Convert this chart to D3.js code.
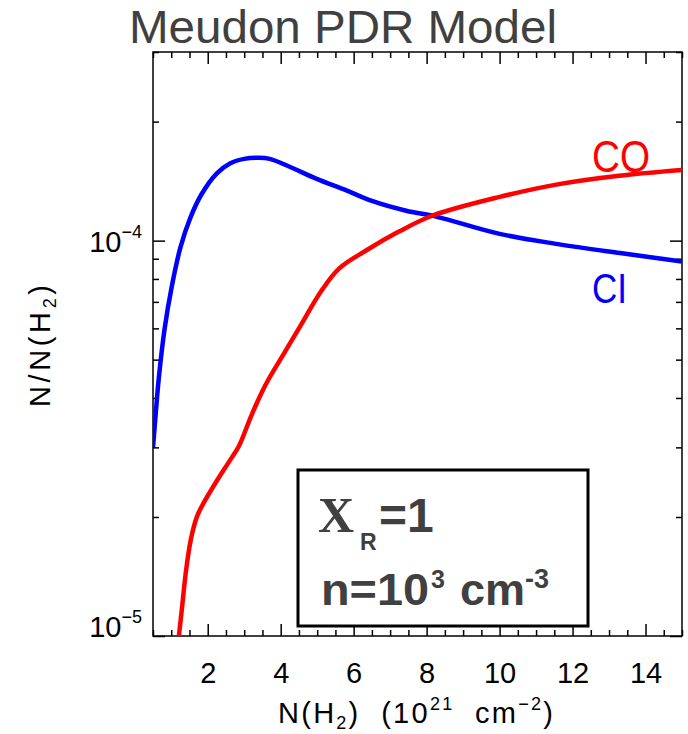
<!DOCTYPE html>
<html>
<head>
<meta charset="utf-8">
<script src="https://cdn.jsdelivr.net/npm/d3@7"></script>
<style>
  html, body { margin: 0; padding: 0; background: #fff; }
  svg { display: block; font-family: "Liberation Sans", Arial, sans-serif; }
</style>
</head>
<body>
<svg id="chart" width="688" height="734"></svg>
<script>
// ---- data ----
const ciX = [0.5, 0.58, 0.66, 0.82, 1.02, 1.25, 1.52, 1.83, 2.25, 2.62, 3.0, 3.4, 3.7, 4.23, 4.97, 5.8, 6.5, 7.44, 8.26, 10, 11.6, 13.3, 15];
const ciY = [3.0e-5, 3.7e-5, 4.5e-5, 6.0e-5, 7.7e-5, 9.6e-5, 1.14e-4, 1.31e-4, 1.48e-4, 1.57e-4, 1.61e-4, 1.62e-4, 1.61e-4, 1.54e-4, 1.435e-4, 1.34e-4, 1.26e-4, 1.19e-4, 1.15e-4, 1.04e-4, 9.8e-5, 9.3e-5, 8.85e-5];
const coX = [1.21, 1.30, 1.40, 1.54, 1.71, 1.90, 2.25, 2.64, 2.86, 3.19, 3.49, 3.68, 4.1, 4.5, 5.13, 5.6, 6.34, 7.24, 8.15, 10, 11.63, 13.27, 15];
const coY = [1.0e-5, 1.19e-5, 1.45e-5, 1.76e-5, 2.01e-5, 2.18e-5, 2.47e-5, 2.81e-5, 3.03e-5, 3.6e-5, 4.15e-5, 4.48e-5, 5.2e-5, 6.0e-5, 7.5e-5, 8.5e-5, 9.44e-5, 1.054e-4, 1.156e-4, 1.29e-4, 1.39e-4, 1.46e-4, 1.51e-4];
const xDomain = [0.5, 15];
const yDomain = [1e-5, 3e-4];
const xMajorTicks = [2, 4, 6, 8, 10, 12, 14];
const xMinorTicks = d3.range(0.5, 15.01, 0.5).filter(v => v % 2 !== 0);
const yMajorTicks = [1e-5, 1e-4];
const yMajorExponents = ["−5", "−4"];
const yMinorTicks = [2e-5, 3e-5, 4e-5, 5e-5, 6e-5, 7e-5, 8e-5, 9e-5, 2e-4, 3e-4];
const titleText = "Meudon PDR Model";

// ---- layout ----
const L = 153, R = 682, T = 52, B = 636;
const svg = d3.select("#chart");
const x = d3.scaleLinear().domain(xDomain).range([L, R]);
const y = d3.scaleLog().domain(yDomain).range([B, T]);

// title
svg.append("text").attr("x", 129).attr("y", 43)
  .attr("font-size", 47).attr("fill", "#404040")
  .attr("textLength", 428).attr("lengthAdjust", "spacingAndGlyphs")
  .text(titleText);

// clip
svg.append("defs").append("clipPath").attr("id", "clip")
  .append("rect").attr("x", L).attr("y", T).attr("width", R - L).attr("height", B - T);

// axes (ticks inward)
function axisStyle(g) {
  g.select(".domain").remove();
  g.selectAll(".tick line").attr("stroke", "#000").attr("stroke-width", 1.5);
}
const MAJ = 12, MIN = 6;
svg.append("g").attr("transform", `translate(0,${B})`)
  .call(d3.axisBottom(x).tickValues(xMajorTicks).tickSize(-MAJ).tickPadding(26).tickFormat(d3.format("d")))
  .call(axisStyle)
  .call(g => g.selectAll(".tick text").attr("font-size", 29).attr("fill", "#000").attr("font-family", "Liberation Sans, Arial, sans-serif"));
svg.append("g").attr("transform", `translate(0,${B})`)
  .call(d3.axisBottom(x).tickValues(xMinorTicks).tickSize(-MIN).tickFormat(""))
  .call(axisStyle);
svg.append("g").attr("transform", `translate(0,${T})`)
  .call(d3.axisTop(x).tickValues(xMajorTicks).tickSize(-MAJ).tickFormat(""))
  .call(axisStyle);
svg.append("g").attr("transform", `translate(0,${T})`)
  .call(d3.axisTop(x).tickValues(xMinorTicks).tickSize(-MIN).tickFormat(""))
  .call(axisStyle);
svg.append("g").attr("transform", `translate(${L},0)`)
  .call(d3.axisLeft(y).tickValues(yMajorTicks).tickSize(-MAJ).tickFormat(""))
  .call(axisStyle);
svg.append("g").attr("transform", `translate(${L},0)`)
  .call(d3.axisLeft(y).tickValues(yMinorTicks).tickSize(-MIN).tickFormat(""))
  .call(axisStyle);
svg.append("g").attr("transform", `translate(${R},0)`)
  .call(d3.axisRight(y).tickValues(yMajorTicks).tickSize(-MAJ).tickFormat(""))
  .call(axisStyle);
svg.append("g").attr("transform", `translate(${R},0)`)
  .call(d3.axisRight(y).tickValues(yMinorTicks).tickSize(-MIN).tickFormat(""))
  .call(axisStyle);

// y tick labels 10^n
yMajorTicks.forEach((v, i) => {
  const py = y(v);
  const base = (py > B - 2) ? B + 1 : py + 11;
  const t = svg.append("text").attr("x", 142).attr("y", base)
    .attr("text-anchor", "end").attr("font-size", 29).attr("fill", "#000");
  t.append("tspan").text("10");
  t.append("tspan").attr("font-size", 18).attr("dy", -14).text(yMajorExponents[i]);
});

// frame
svg.append("rect").attr("x", L).attr("y", T).attr("width", R - L).attr("height", B - T)
  .attr("fill", "none").attr("stroke", "#000").attr("stroke-width", 1.5);

// curves
const line = d3.line().x(d => x(d[0])).y(d => y(d[1])).curve(d3.curveCatmullRom.alpha(0.5));
const gc = svg.append("g").attr("clip-path", "url(#clip)");
gc.append("path").datum(ciX.map((v, i) => [v, ciY[i]]))
  .attr("d", line).attr("fill", "none").attr("stroke", "#0000ff").attr("stroke-width", 4.5);
gc.append("path").datum(coX.map((v, i) => [v, coY[i]]))
  .attr("d", line).attr("fill", "none").attr("stroke", "#ff0000").attr("stroke-width", 4.5);

// curve labels
svg.append("text").attr("x", 592).attr("y", 172).attr("font-size", 44).attr("fill", "#ff0000")
  .attr("textLength", 58).attr("lengthAdjust", "spacingAndGlyphs").text("CO");
svg.append("text").attr("x", 592).attr("y", 303).attr("font-size", 43).attr("fill", "#0000ff")
  .attr("textLength", 35).attr("lengthAdjust", "spacingAndGlyphs").text("CI");

// axis titles
const xl = svg.append("text").attr("x", 278).attr("y", 723).attr("font-size", 29).attr("fill", "#000")
  .attr("textLength", 275).attr("lengthAdjust", "spacing").style("white-space", "pre");
xl.append("tspan").text("N(H");
xl.append("tspan").attr("font-size", 18).attr("dy", 6).text("2");
xl.append("tspan").attr("dy", -6).text(")  (10");
xl.append("tspan").attr("font-size", 18).attr("dy", -13).text("21");
xl.append("tspan").attr("dy", 13).text("  cm");
xl.append("tspan").attr("font-size", 18).attr("dy", -13).text("−2");
xl.append("tspan").attr("dy", 13).text(")");

const yl = svg.append("text").attr("transform", "translate(50,407) rotate(-90)")
  .attr("font-size", 29).attr("fill", "#000")
  .attr("textLength", 122).attr("lengthAdjust", "spacing");
yl.append("tspan").text("N/N(H");
yl.append("tspan").attr("font-size", 18).attr("dy", 6).text("2");
yl.append("tspan").attr("dy", -6).text(")");

// parameter box
svg.append("rect").attr("x", 298).attr("y", 470).attr("width", 290).attr("height", 156)
  .attr("fill", "#fff").attr("stroke", "#000").attr("stroke-width", 3);
const boxCol = "#404040";
svg.append("text").attr("x", 318).attr("y", 532).attr("font-family", "Liberation Serif, serif")
  .attr("font-weight", "bold").attr("font-size", 50).attr("fill", boxCol).text("X");
svg.append("text").attr("x", 360).attr("y", 550).attr("font-weight", "bold")
  .attr("font-size", 23).attr("fill", boxCol).text("R");
svg.append("text").attr("x", 379).attr("y", 532).attr("font-weight", "bold")
  .attr("font-size", 48).attr("fill", boxCol).text("=1");
svg.append("text").attr("x", 321).attr("y", 605).attr("font-weight", "bold")
  .attr("font-size", 45).attr("fill", boxCol).attr("textLength", 108).attr("lengthAdjust", "spacingAndGlyphs").text("n=10");
svg.append("text").attr("x", 431).attr("y", 588).attr("font-weight", "bold")
  .attr("font-size", 25).attr("fill", boxCol).text("3");
svg.append("text").attr("x", 460).attr("y", 605).attr("font-weight", "bold")
  .attr("font-size", 45).attr("fill", boxCol).text("cm");
svg.append("text").attr("x", 525).attr("y", 588).attr("font-weight", "bold")
  .attr("font-size", 27).attr("fill", boxCol).text("-3");
</script>
</body>
</html>
